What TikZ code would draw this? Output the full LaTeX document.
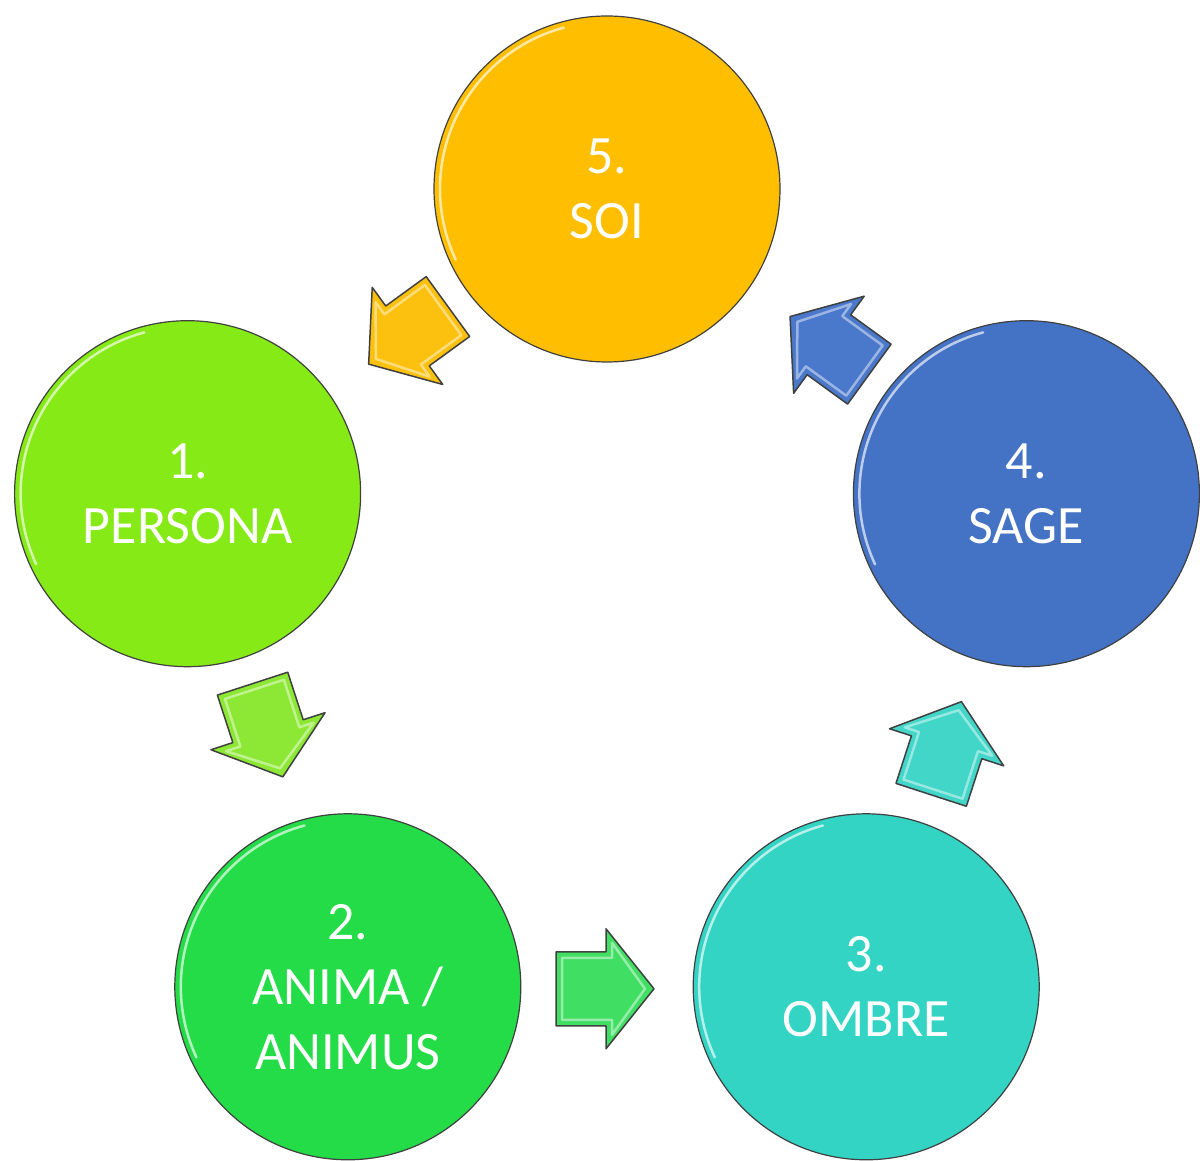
\documentclass[tikz,border=0pt]{standalone}
\usepackage{fontspec}
\setmainfont{Carlito}
\usetikzlibrary{calc}
\definecolor{cSoi}{HTML}{FFBF00}
\definecolor{cPersona}{HTML}{86EA16}
\definecolor{cAnima}{HTML}{24DC48}
\definecolor{cOmbre}{HTML}{33D4C4}
\definecolor{cSage}{HTML}{4472C4}
\definecolor{aSoi}{HTML}{FCC10F}
\definecolor{aPersona}{HTML}{8DE836}
\definecolor{aAnima}{HTML}{40DE62}
\definecolor{aOmbre}{HTML}{42D6C9}
\definecolor{aSage}{HTML}{4A78CB}
\tikzset{
  stage/.style={circle, minimum size=346pt, inner sep=0pt, align=center,
    text=white, font=\fontsize{54}{65}\selectfont, draw=black!75, line width=1.2pt},
  blockarrow/.style={draw=black!75, line width=1.5pt, line join=round},
  bevel/.style={white, opacity=0.45, line width=2.5pt, line join=round},
  shine/.style={white, opacity=0.65, line width=2.5pt, line cap=round},
}
\newcommand{\cyclearrow}[3]{%
  \begin{scope}[shift={(#1)}, rotate=#2]
    \fill[#3, blockarrow] (-49,-37) -- (1,-37) -- (1,-60) -- (49,0) -- (1,60) -- (1,37) -- (-49,37) -- cycle;
    \draw[bevel] (-43,-31) -- (7,-31) -- (7,-46) -- (40,0) -- (7,46) -- (7,31) -- (-43,31) -- cycle;
  \end{scope}}
\newcommand{\stageshine}[1]{%
  \draw[shine] ($(#1)+(105:167)$) arc[start angle=105, end angle=205, radius=167];}
\begin{document}
\begin{tikzpicture}[x=1pt,y=1pt]
  \useasboundingbox (0,0) rectangle (1200,1160);
  \node[stage, fill=cSoi]     (soi)     at (607,971)     {5.\\SOI};
  \node[stage, fill=cPersona] (persona) at (187.6,666.3) {1.\\PERSONA};
  \node[stage, fill=cAnima]   (anima)   at (347.8,173.2) {2.\\ANIMA /\\ANIMUS};
  \node[stage, fill=cOmbre]   (ombre)   at (866.2,173.2) {3.\\OMBRE};
  \node[stage, fill=cSage]    (sage)    at (1026.4,666.3){4.\\SAGE};
  \stageshine{soi}
  \stageshine{persona}
  \stageshine{anima}
  \stageshine{ombre}
  \stageshine{sage}
  \coordinate (a5) at ($($(soi)!0.5!(persona)$)+(11,6)$);
  \coordinate (a1) at ($($(persona)!0.5!(anima)$)+(0,10)$);
  \coordinate (a2) at ($($(anima)!0.5!(ombre)$)+(-2,-2)$);
  \coordinate (a3) at ($($(ombre)!0.5!(sage)$)+(0,-8)$);
  \coordinate (a4) at ($($(sage)!0.5!(soi)$)+(13,-4)$);
  \cyclearrow{a5}{216}{aSoi}
  \cyclearrow{a1}{288}{aPersona}
  \cyclearrow{a2}{0}{aAnima}
  \cyclearrow{a3}{72}{aOmbre}
  \cyclearrow{a4}{144}{aSage}
\end{tikzpicture}
\end{document}
